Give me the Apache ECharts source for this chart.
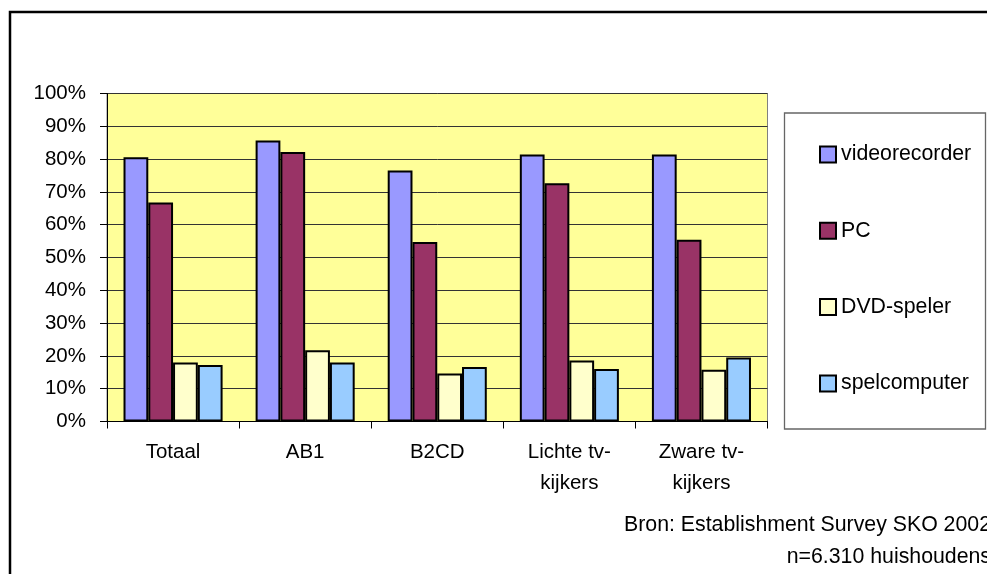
<!DOCTYPE html>
<html>
<head>
<meta charset="utf-8">
<script src="https://cdn.jsdelivr.net/npm/echarts@6/dist/echarts.min.js"></script>
<style>
html,body{margin:0;padding:0;background:#fff;}
#c{width:987px;height:574px;}
</style>
</head>
<body>
<div id="c"></div>
<script>
var categories = ['Totaal', 'AB1', 'B2CD', 'Lichte tv-\nkijkers', 'Zware tv-\nkijkers'];
var videorecorder = [80.6, 85.7, 76.5, 81.4, 81.4];
var pc = [66.8, 82.2, 54.7, 72.6, 55.4];
var dvdSpeler = [18.0, 21.7, 14.6, 18.6, 15.8];
var spelcomputer = [17.2, 18.0, 16.6, 16.0, 19.5];
var seriesNames = ['videorecorder', 'PC', 'DVD-speler', 'spelcomputer'];
var sourceLines = ['Bron: Establishment Survey SKO 2002', 'n=6.310 huishoudens'];

var FONT = "'Liberation Sans', Arial, sans-serif";
var colors = ['#9999FF', '#993366', '#FFFFCC', '#99CCFF'];
var values = [videorecorder, pc, dvdSpeler, spelcomputer];

var chart = echarts.init(document.getElementById('c'));
chart.setOption({
  animation: false,
  backgroundColor: '#ffffff',
  grid: {
    left: 107, right: 219.5, top: 93.5, bottom: 152.5,
    show: true, backgroundColor: '#FFFF99', borderColor: '#808080', borderWidth: 1
  },
  legend: {
    orient: 'vertical',
    left: 814, top: 139,
    itemWidth: 16, itemHeight: 16,
    itemGap: 55.3,
    icon: 'rect',
    itemStyle: { borderColor: '#000', borderWidth: 2 },
    textStyle: { fontFamily: FONT, fontSize: 21.3, color: '#000', lineHeight: 20 },
    data: seriesNames
  },
  xAxis: {
    type: 'category',
    data: categories,
    boundaryGap: true,
    axisLine: { lineStyle: { color: '#000', width: 1 } },
    axisTick: { show: true, length: 7, lineStyle: { color: '#000' } },
    axisLabel: { fontFamily: FONT, fontSize: 20.5, color: '#000', margin: 15, lineHeight: 31, interval: 0 }
  },
  yAxis: {
    type: 'value',
    min: 0, max: 100, interval: 10,
    axisLine: { show: true, lineStyle: { color: '#000', width: 1 } },
    axisTick: { show: true, length: 7, lineStyle: { color: '#000' } },
    splitLine: { show: true, lineStyle: { color: '#333', width: 1 } },
    axisLabel: { fontFamily: FONT, fontSize: 20.5, color: '#000', margin: 21, formatter: '{value}%' }
  },
  series: seriesNames.map(function (n, i) {
    return {
      name: n, type: 'bar', data: values[i],
      barGap: '0%', barCategoryGap: '25%',
      itemStyle: { color: colors[i], borderColor: '#000', borderWidth: 2 }
    };
  }),
  graphic: [
    { type: 'rect', shape: { x: 10, y: 12, width: 1100, height: 700 },
      style: { fill: 'none', stroke: '#000', lineWidth: 2.5 }, silent: true },
    { type: 'rect', shape: { x: 784.5, y: 113, width: 201, height: 316 },
      style: { fill: 'none', stroke: '#666', lineWidth: 1.3 }, silent: true },
    { type: 'text', right: -4, top: 515,
      style: { text: sourceLines[0], font: '21.3px ' + FONT, fill: '#000', textAlign: 'right' } },
    { type: 'text', right: -4, top: 547,
      style: { text: sourceLines[1], font: '21.3px ' + FONT, fill: '#000', textAlign: 'right' } }
  ]
});
</script>
</body>
</html>
